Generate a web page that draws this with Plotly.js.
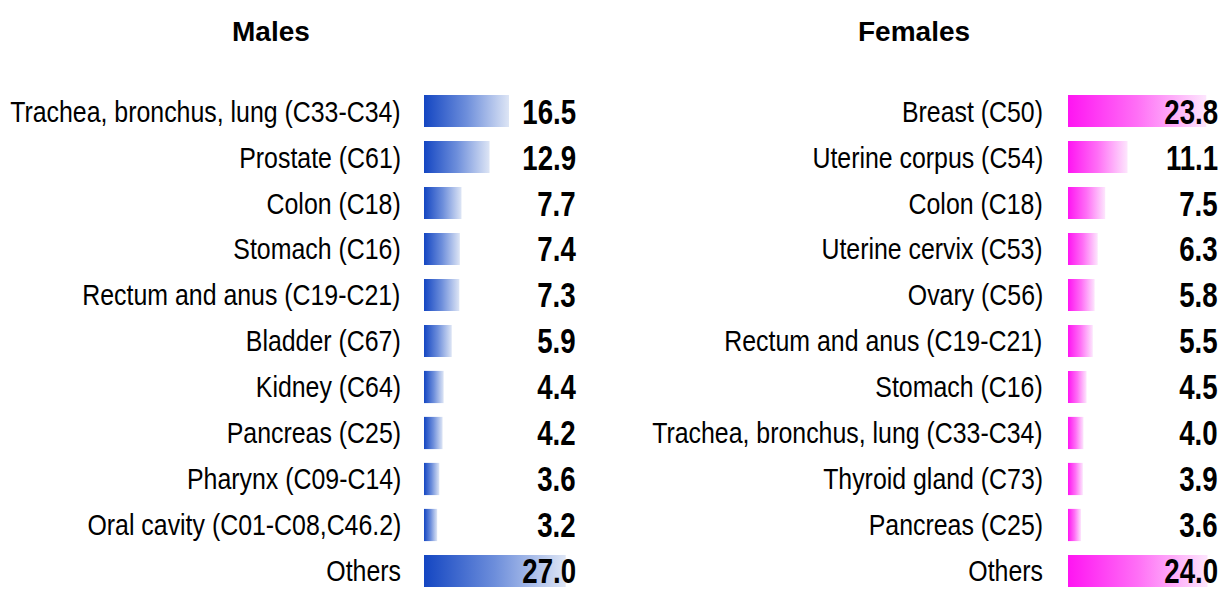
<!DOCTYPE html>
<html><head><meta charset="utf-8">
<script src="https://cdn.plot.ly/plotly-3.0.1.min.js"></script>
<style>html,body{margin:0;padding:0;background:#fff}</style>
</head><body><div id="chart" style="width:1223px;height:591px"></div>
<script>
const maleSites = ["Trachea, bronchus, lung (C33-C34)","Prostate (C61)","Colon (C18)","Stomach (C16)","Rectum and anus (C19-C21)","Bladder (C67)","Kidney (C64)","Pancreas (C25)","Pharynx (C09-C14)","Oral cavity (C01-C08,C46.2)","Others"];
const maleRates = [16.5,12.9,7.7,7.4,7.3,5.9,4.4,4.2,3.6,3.2,27.0];
const femaleSites = ["Breast (C50)","Uterine corpus (C54)","Colon (C18)","Uterine cervix (C53)","Ovary (C56)","Rectum and anus (C19-C21)","Stomach (C16)","Trachea, bronchus, lung (C33-C34)","Thyroid gland (C73)","Pancreas (C25)","Others"];
const femaleRates = [23.8,11.1,7.5,6.3,5.8,5.5,4.5,4.0,3.9,3.6,24.0];
const panelTitles = ["Males","Females"];

const W = 1223, H = 591;
const SANS = "Liberation Sans, Arial, sans-serif";
const HALF = 0.35;
const LABEL_SQUEEZE = 0.83, VALUE_SQUEEZE = 0.79;
const panels = [
  {sites: maleSites, rates: maleRates, xa: 'x', ya: 'y', x0: 0.76, x1: 33.35,
   dom: [424/W, 600/W], cs: [[0,'#1446c2'],[0.5,'#6d8edb'],[1,'#dde5f5']],
   valRight: 578/W, titleX: 271/W, title: panelTitles[0], shift: -21},
  {sites: femaleSites, rates: femaleRates, xa: 'x2', ya: 'y2', x0: 1.5, x1: 26.5,
   dom: [1068/W, 1], cs: [[0,'#ff14f2'],[0.5,'#ff6ff6'],[1,'#fde6fd']],
   valRight: 1220/W, titleX: 914/W, title: panelTitles[1], shift: -23}
];

const traces = [];
const annotations = [];
const squeeze = [];
panels.forEach(p => {
  p.rates.forEach((v, i) => {
    traces.push({
      type: 'scatter', mode: 'none', xaxis: p.xa, yaxis: p.ya,
      x: [0, v, v, 0, 0], y: [i - HALF, i - HALF, i + HALF, i + HALF, i - HALF],
      fill: 'toself', fillcolor: p.cs[0][1],
      fillgradient: {type: 'horizontal', colorscale: p.cs, start: p.x0, stop: v},
      hoverinfo: 'skip', showlegend: false
    });
    annotations.push({
      xref: p.xa + ' domain', yref: p.ya, x: 0, y: i, xanchor: 'right', yanchor: 'middle',
      xshift: p.shift, text: p.sites[i], showarrow: false,
      font: {family: SANS, size: 30, color: '#000'}
    });
    squeeze.push(LABEL_SQUEEZE);
    annotations.push({
      xref: 'paper', yref: p.ya, x: p.valRight, y: i, xanchor: 'right', yanchor: 'middle',
      text: '<b>' + v.toFixed(1) + '</b>', showarrow: false,
      font: {family: SANS, size: 35, color: '#000'}
    });
    squeeze.push(VALUE_SQUEEZE);
  });
  annotations.push({
    xref: 'paper', yref: 'paper', x: p.titleX, y: 1 - 31/H, xanchor: 'center', yanchor: 'middle',
    text: '<b>' + p.title + '</b>', showarrow: false,
    font: {family: SANS, size: 28, color: '#000'}
  });
  squeeze.push(1);
});

const yRange = [10.435, -2.413];
const axX = (p) => ({domain: p.dom, range: [p.x0, p.x1], visible: false, showgrid: false, zeroline: false, fixedrange: true});
const axY = (anchor) => ({domain: [0, 1], range: yRange, visible: false, showgrid: false, zeroline: false, anchor: anchor, fixedrange: true});

const layout = {
  width: W, height: H, margin: {l: 0, r: 0, t: 0, b: 0},
  paper_bgcolor: '#fff', plot_bgcolor: 'rgba(0,0,0,0)',
  xaxis: Object.assign(axX(panels[0]), {anchor: 'y'}),
  yaxis: axY('x'),
  xaxis2: Object.assign(axX(panels[1]), {anchor: 'y2'}),
  yaxis2: axY('x2'),
  annotations: annotations, showlegend: false
};
Plotly.newPlot('chart', traces, layout, {displayModeBar: false, staticPlot: true}).then(gd => {
  gd.querySelectorAll('g.annotation').forEach(g => {
    const idx = +g.getAttribute('data-index');
    const k = squeeze[idx];
    if (!k || k === 1) return;
    const t = g.querySelector('text.annotation-text');
    if (!t) return;
    const bb = t.getBBox();
    const ax = bb.x + bb.width;
    const prev = t.getAttribute('transform') || '';
    t.setAttribute('transform', prev + ' translate(' + ax + ',0) scale(' + k + ',1) translate(' + (-ax) + ',0)');
  });
});
</script></body></html>
